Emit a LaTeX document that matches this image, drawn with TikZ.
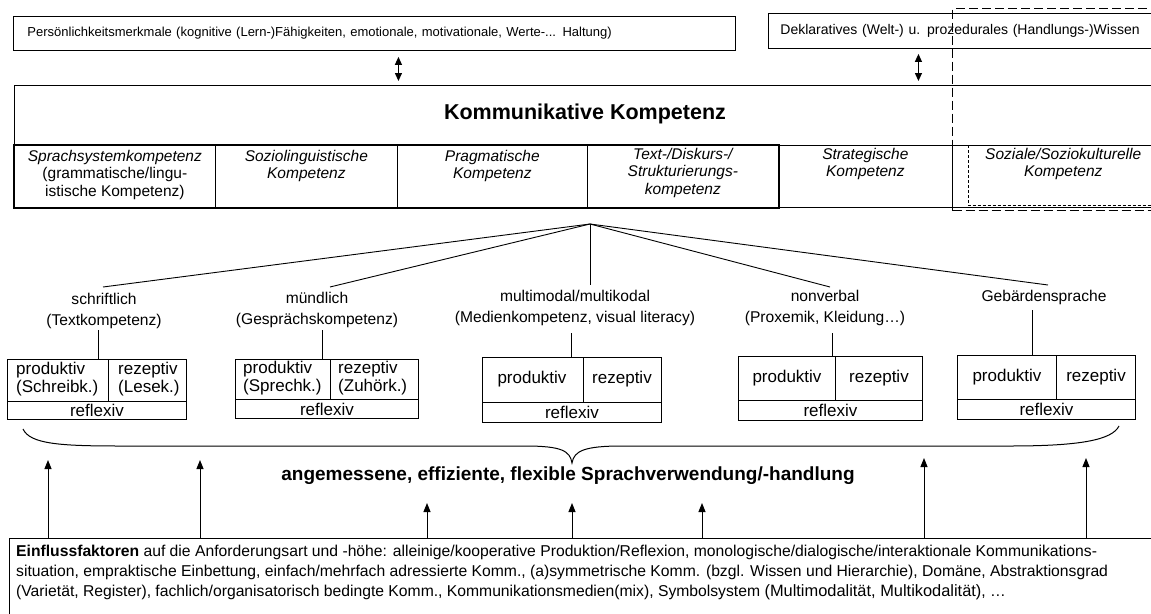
\documentclass[tikz,border=0pt]{standalone}
\usepackage{fontspec}
\setmainfont{Liberation Sans}
\usetikzlibrary{arrows.meta,calc}

\begin{document}
\begin{tikzpicture}[x=1pt,y=-1pt,
  every node/.style={inner sep=0pt},
  frame/.style={draw, line width=0.9pt, anchor=north west, inner sep=0pt},
  thinframe/.style={draw, line width=0.7pt, anchor=north west, inner sep=0pt},
  toptxt/.style={font=\fontsize{14}{16}\selectfont, align=left},
  lab/.style={font=\fontsize{15.6}{20.5}\selectfont, align=center},
  cellt/.style={font=\fontsize{15.5}{17.5}\selectfont\itshape, align=center, anchor=north},
  bt/.style={font=\fontsize{17}{17.5}\selectfont, align=left},
  conn/.style={line width=0.9pt},
  sep/.style={line width=0.7pt},
  uparr/.style={line width=1pt, -{Triangle[length=9pt,width=7pt]}},
  dblarr/.style={line width=1.1pt, {Triangle[length=8pt,width=7pt]}-{Triangle[length=8pt,width=7pt]}},
]
\useasboundingbox (0,0) rectangle (1151,613);
\clip (0,0) rectangle (1151,613);
\fill[white] (0,0) rectangle (1151,613);

% ---------- top boxes ----------
\node[frame, toptxt, font=\fontsize{13}{15}\selectfont, minimum width=722pt, minimum height=34pt, text width=694pt, inner xsep=14pt] (pers) at (13,16)
  {Persönlichkeitsmerkmale (kognitive (Lern-)Fähigkeiten, emotionale, motivationale, Werte-... Haltung)};
\node[frame, toptxt, minimum width=400pt, minimum height=35pt, text width=376pt, inner xsep=12pt] (wiss) at (768,13)
  {Deklaratives (Welt-) u. prozedurales (Handlungs-)Wissen};

% ---------- main box ----------
\node[frame, minimum width=1150pt, minimum height=122pt] (komm) at (14,85) {};
\node[font=\fontsize{21.5}{24}\selectfont\bfseries] (kommt) at (585,114) {Kommunikative Kompetenz};

\draw[dblarr] ([xshift=24pt,yshift=-6pt]pers.south) -- ([xshift=-191pt,yshift=4pt]komm.north);
\draw[dblarr] ([xshift=-50pt,yshift=-5pt]wiss.south) -- ([xshift=329pt,yshift=4pt]komm.north);

% ---------- competence row ----------
\node[thinframe, minimum width=201pt, minimum height=62pt] (c1) at (14,145) {};
\node[thinframe, minimum width=182pt, minimum height=62pt] (c2) at (215,145) {};
\node[thinframe, minimum width=190pt, minimum height=62pt] (c3) at (397,145) {};
\node[thinframe, minimum width=191pt, minimum height=62pt] (c4) at (587,145) {};
\node[thinframe, minimum width=174pt, minimum height=62pt] (c5) at (778,145) {};
\node[minimum width=200pt, minimum height=60pt, anchor=north west] (c6) at (968,145) {};
\draw[sep] (c5.north east) -- (c6.north east);
\draw[line width=0.5pt, densely dashed] (c6.north west) -- (c6.south west) -- (c6.south east);
\draw[line width=2.4pt] (c1.north west) rectangle (c4.south east);

\node[cellt] at ($(c1.north)+(0,5)$) {\textit{Sprachsystemkompetenz}\\\upshape(grammatische/lingu-\\\upshape istische Kompetenz)};
\node[cellt] at ($(c2.north)+(0,5)$) {Soziolinguistische\\Kompetenz};
\node[cellt] at ($(c3.north)+(0,5)$) {Pragmatische\\Kompetenz};
\node[cellt] at ($(c4.north)+(0,3)$) {Text-/Diskurs-/\\Strukturierungs-\\kompetenz};
\node[cellt] at ($(c5.north)+(0,3)$) {Strategische\\Kompetenz};
\node[cellt] at ($(c6.north)+(-5,3)$) {Soziale/Soziokulturelle\\Kompetenz};

% dashed frame
\node[draw, line width=1.1pt, dash pattern=on 9pt off 4pt, minimum width=230pt, minimum height=202pt, anchor=north west] (soz) at (952,8) {};

% ---------- fan ----------
\coordinate (apex) at (590,224);
\node[lab] (l1) at (104,311) {schriftlich\\(Textkompetenz)};
\node[lab] (l2) at (317,310) {mündlich\\(Gesprächskompetenz)};
\node[lab] (l3) at (575,308) {multimodal/multikodal\\(Medienkompetenz, visual literacy)};
\node[lab] (l4) at (825,308) {nonverbal\\(Proxemik, Kleidung…)};
\node[lab] (l5) at (1044,297) {Gebärdensprache};

\coordinate (f1) at (103,287);
\coordinate (f2) at (330,287);
\coordinate (f3) at (590,285);
\coordinate (f4) at (830,287);
\coordinate (f5) at (1048,285);
\foreach \f in {f1,f2,f3,f4,f5} \draw[conn] (apex) -- (\f);

% ---------- sub boxes ----------
\node[frame, minimum width=179pt, minimum height=60pt] (b1) at (7,359) {};
\node[frame, minimum width=183pt, minimum height=59pt] (b2) at (235,359) {};
\node[frame, minimum width=179pt, minimum height=65pt] (b3) at (482,357) {};
\node[frame, minimum width=184pt, minimum height=64pt] (b4) at (738,356) {};
\node[frame, minimum width=178pt, minimum height=64pt] (b5) at (957,355) {};

\coordinate (k1) at (98,330);
\coordinate (k2) at (322,330);
\coordinate (k3) at (571,333);
\coordinate (k4) at (832,333);
\coordinate (k5) at (1032,310);
\draw[conn] (k1) -- (k1 |- b1.north);
\draw[conn] (k2) -- (k2 |- b2.north);
\draw[conn] (k3) -- (k3 |- b3.north);
\draw[conn] (k4) -- (k4 |- b4.north);
\draw[conn] (k5) -- (k5 |- b5.north);

% box 1
\draw[sep] ($(b1.north west)+(101,0)$) -- ($(b1.north west)+(101,42)$);
\draw[sep] ($(b1.north west)+(0,42)$) -- ($(b1.north east)+(0,42)$);
\node[bt, anchor=west] at ($(b1.north west)+(9,20)$) {produktiv\\(Schreibk.)};
\node[bt, anchor=west] at ($(b1.north west)+(111,20)$) {rezeptiv\\(Lesek.)};
\node[bt] at ($(b1.south)+(0,-9)$) {reflexiv};
% box 2
\draw[sep] ($(b2.north west)+(95,0)$) -- ($(b2.north west)+(95,40)$);
\draw[sep] ($(b2.north west)+(0,40)$) -- ($(b2.north east)+(0,40)$);
\node[bt, anchor=west] at ($(b2.north west)+(8,19)$) {produktiv\\(Sprechk.)};
\node[bt, anchor=west] at ($(b2.north west)+(103,19)$) {rezeptiv\\(Zuhörk.)};
\node[bt] at ($(b2.south)+(0,-9)$) {reflexiv};
% box 3
\draw[sep] ($(b3.north west)+(101,0)$) -- ($(b3.north west)+(101,45)$);
\draw[sep] ($(b3.north west)+(0,45)$) -- ($(b3.north east)+(0,45)$);
\node[bt] at ($(b3.north west)+(50,22)$) {produktiv};
\node[bt] at ($(b3.north west)+(140,22)$) {rezeptiv};
\node[bt] at ($(b3.south)+(0,-10)$) {reflexiv};
% box 4
\draw[sep] ($(b4.north west)+(97,0)$) -- ($(b4.north west)+(97,44)$);
\draw[sep] ($(b4.north west)+(0,44)$) -- ($(b4.north east)+(0,44)$);
\node[bt] at ($(b4.north west)+(49,22)$) {produktiv};
\node[bt] at ($(b4.north west)+(141,22)$) {rezeptiv};
\node[bt] at ($(b4.south)+(0,-10)$) {reflexiv};
% box 5
\draw[sep] ($(b5.north west)+(99,0)$) -- ($(b5.north west)+(99,44)$);
\draw[sep] ($(b5.north west)+(0,44)$) -- ($(b5.north east)+(0,44)$);
\node[bt] at ($(b5.north west)+(50,22)$) {produktiv};
\node[bt] at ($(b5.north west)+(139,22)$) {rezeptiv};
\node[bt] at ($(b5.south)+(0,-10)$) {reflexiv};

% ---------- brace ----------
\draw[line width=1pt] (23,429) .. controls (30,444) and (60,446) .. (120,446) -- (525,446)
  .. controls (562,446) and (570,451) .. (572,463)
  .. controls (574,451) and (584,446) .. (622,446) -- (1010,446)
  .. controls (1080,446) and (1112,440) .. (1119,426);

\node[font=\fontsize{19}{22}\selectfont\bfseries] (usage) at (568,476) {angemessene, effiziente, flexible Sprachverwendung/-handlung};

% ---------- bottom box ----------
\node[frame, minimum width=1160pt, minimum height=100pt] (einf) at (9,538) {};
\node[anchor=north west, align=left, font=\fontsize{15.7}{20}\selectfont] (einft) at (16,545)
  {\textbf{Einflussfaktoren} auf die Anforderungsart und -höhe: alleinige/kooperative Produktion/Reflexion, monologische/dialogische/interaktionale Kommunikations-\\
   situation, empraktische Einbettung, einfach/mehrfach adressierte Komm., (a)symmetrische Komm. (bzgl. Wissen und Hierarchie), Domäne, Abstraktionsgrad\\
   (Varietät, Register), fachlich/organisatorisch bedingte Komm., Kommunikationsmedien(mix), Symbolsystem {\fontsize{16.4}{20}\selectfont(Multimodalität, Multikodalität)}, …};

\coordinate (t1) at (48,460);
\coordinate (t2) at (200,460);
\coordinate (t3) at (427,503);
\coordinate (t4) at (572,503);
\coordinate (t5) at (702,503);
\coordinate (t6) at (924,458);
\coordinate (t7) at (1086,458);
\foreach \t in {t1,t2,t3,t4,t5,t6,t7} \draw[uparr] (\t |- einf.north) -- (\t);

\end{tikzpicture}
\end{document}
